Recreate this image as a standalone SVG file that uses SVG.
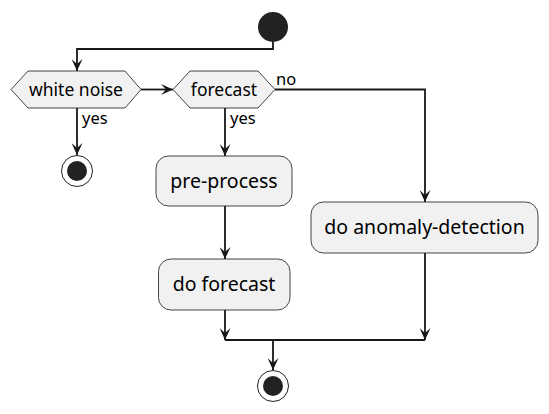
<svg xmlns="http://www.w3.org/2000/svg" width="549" height="414" viewBox="0 0 549 414">
<style>
.box{fill:#F1F1F1;stroke:#181818;stroke-width:0.8}
.t{font-family:"Noto Sans","Open Sans",sans-serif;font-size:19.5px;fill:#000;text-anchor:middle}
.td{font-family:"Noto Sans","Open Sans",sans-serif;font-size:17.5px;fill:#000;text-anchor:middle}
.lbl{font-family:"Noto Sans","Open Sans",sans-serif;font-size:16.5px;fill:#000}
.ln{fill:none;stroke:#181818;stroke-width:1.8}
</style>
<defs>
<marker id="ah" viewBox="0 0 12 11" refX="12" refY="5.5" markerWidth="12" markerHeight="11" markerUnits="userSpaceOnUse" orient="auto">
<path d="M0,0 L12,5.5 L0,11 L5,5.5 z" fill="#181818"/>
</marker>
</defs>
<rect width="549" height="414" fill="#fff"/>
<g id="connectors">
<path class="ln" d="M273,42 V49 H77 V71" marker-end="url(#ah)"/>
<path class="ln" d="M141,89.5 H173" marker-end="url(#ah)"/>
<path class="ln" d="M77,108 V155" marker-end="url(#ah)"/>
<text class="lbl" x="82" y="124">yes</text>
<path class="ln" d="M225,108 V156" marker-end="url(#ah)"/>
<text class="lbl" x="230" y="124">yes</text>
<path class="ln" d="M275,89.5 H425 V202" marker-end="url(#ah)"/>
<text class="lbl" x="276" y="85">no</text>
<path class="ln" d="M225,206 V259" marker-end="url(#ah)"/>
<path class="ln" d="M225,310 V340" marker-end="url(#ah)"/>
<path class="ln" d="M425,253 V340" marker-end="url(#ah)"/>
<path class="ln" d="M225,340 H425"/>
<path class="ln" d="M273,340 V370" marker-end="url(#ah)"/>
</g>
<g id="start"><circle cx="273" cy="27" r="15" fill="#222222"/></g>
<g id="white_noise">
<polygon class="box" points="11,89.5 28,71 125,71 141,89.5 125,108 28,108"/>
<text class="td" x="76" y="96">white noise</text>
</g>
<g id="forecast">
<polygon class="box" points="173,89.5 190,71 258,71 275,89.5 258,108 190,108"/>
<text class="td" x="224" y="96">forecast</text>
</g>
<g id="stop1">
<circle cx="77" cy="171" r="15.5" fill="#fff" stroke="#222" stroke-width="1"/>
<circle cx="77" cy="171" r="10" fill="#222222"/>
</g>
<g id="pre_process">
<rect class="box" x="156" y="156" width="136" height="50" rx="12.5"/>
<text class="t" x="224" y="188">pre-process</text>
</g>
<g id="do_forecast">
<rect class="box" x="158.5" y="259" width="131.5" height="51" rx="12.5"/>
<text class="t" x="224" y="291">do forecast</text>
</g>
<g id="anomaly">
<rect class="box" x="311" y="202" width="227" height="51" rx="12.5"/>
<text class="t" x="424.5" y="234">do anomaly-detection</text>
</g>
<g id="stop2">
<circle cx="273" cy="386" r="15.5" fill="#fff" stroke="#222" stroke-width="1"/>
<circle cx="273" cy="386" r="10" fill="#222222"/>
</g>
</svg>
